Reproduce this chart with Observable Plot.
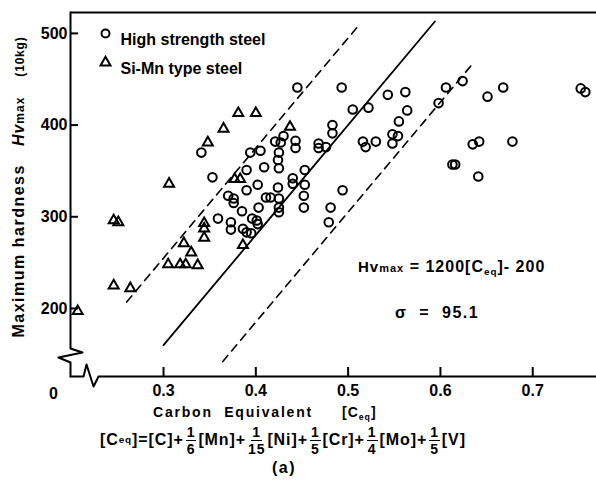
<!DOCTYPE html>
<html><head><meta charset="utf-8">
<script src="https://cdn.jsdelivr.net/npm/d3@7"></script>
<script src="https://cdn.jsdelivr.net/npm/@observablehq/plot@0.6"></script>
<style>
body{margin:0;background:#fff;}
#wrap{position:relative;width:596px;height:488px;font-family:"Liberation Sans",Arial,sans-serif;font-weight:bold;color:#000;overflow:hidden}
.abs{position:absolute;white-space:nowrap;line-height:1}
sub{font-size:62%;vertical-align:-0.3em;line-height:0}
.frac{display:inline-flex;flex-direction:column;align-items:center;vertical-align:middle;font-size:14px;line-height:1;margin:0 2px}
.frac .n{border-bottom:1.5px solid #000;padding:0 1px 1px}
.frac .d{padding-top:1px}
</style></head><body><div id="wrap"></div>
<script>
// ---- data ----
const hsC  = [0.341,0.353,0.359,0.370,0.376,0.376,0.373,0.373,0.385,0.386,0.390,0.395,0.390,0.390,0.394,0.405,0.402,0.409,0.403,0.396,0.401,0.402,0.411,0.416,0.424,0.425,0.425,0.425,0.425,0.424,0.425,0.421,0.427,0.430,0.443,0.443,0.445,0.440,0.440,0.453,0.453,0.452,0.452,0.468,0.468,0.476,0.483,0.483,0.493,0.494,0.481,0.479,0.505,0.522,0.543,0.562,0.564,0.555,0.548,0.554,0.548,0.516,0.519,0.530,0.606,0.624,0.598,0.651,0.668,0.752,0.757,0.635,0.642,0.678,0.613,0.616,0.641];
const hsHv = [370,343,298,323,320,315,294,286,306,287,283,282,329,351,370,372,335,354,310,298,296,292,321,321,332,320,310,305,370,362,353,382,381,388,383,375,441,342,336,351,335,323,310,380,375,376,400,391,441,329,310,294,417,419,433,436,416,404,390,388,380,382,376,382,441,448,424,431,441,440,436,379,382,382,357,357,344];
const smC  = [0.207,0.246,0.264,0.246,0.251,0.306,0.305,0.318,0.324,0.337,0.322,0.330,0.344,0.344,0.344,0.348,0.365,0.381,0.400,0.377,0.383,0.386,0.437];
const smHv = [197,225,222,296,294,336,248,248,248,247,271,261,293,287,277,381,396,413,413,341,341,269,398];
const fitC  = [0.300,0.594], fitHv  = [160,513];
const upC   = [0.260,0.510], upHv   = [207,507];
const loC   = [0.364,0.635], loHv   = [142,467];
const xTicks = [0.3,0.4,0.5,0.6,0.7];
const yTicks = [200,300,400,500];
const seriesNames = ["High strength steel","Si-Mn type steel"];

// ---- layout ----
const W=596, H=406, mt=12, mb=30, ml=70, mr=0;
const X0=0.1992, X1=0.7691, Y0=125.8, Y1=522.8;
const pxX=(X1-X0)/(W-ml-mr), pxY=(Y1-Y0)/(H-mt-mb);
const yBreak=148.7, xBreak=0.2209;
const leftAxis=[[X0,Y1],[X0,yBreak+7*pxY],[X0+12*pxX,yBreak+3*pxY],[X0-12*pxX,yBreak-2*pxY],[X0,yBreak-7*pxY],[X0,Y0]];
const bottomAxis=[[X0,Y0],[xBreak-7*pxX,Y0],[xBreak-4*pxX,Y0+12*pxY],[xBreak+3*pxX,Y0-10*pxY],[xBreak+8*pxX,Y0],[X1,Y0]];

const hs = hsC.map((c,i)=>({c,hv:hsHv[i]}));
const sm = smC.map((c,i)=>({c,hv:smHv[i]}));
const seg=(C,V)=>C.map((c,i)=>({c,hv:V[i]}));
const fam="Liberation Sans, Arial, sans-serif";

const chart = Plot.plot({
  width:W, height:H, marginTop:mt, marginBottom:mb, marginLeft:ml, marginRight:mr,
  style:{background:"#fff",color:"#000",fontFamily:fam,fontWeight:"bold",fontSize:"15px",overflow:"visible"},
  x:{domain:[X0,X1]}, y:{domain:[Y0,Y1]},
  marks:[
    Plot.ruleY([Y1],{stroke:"#000",strokeWidth:2}),
    Plot.line(leftAxis,{x:d=>d[0],y:d=>d[1],stroke:"#000",strokeWidth:2,curve:"linear"}),
    Plot.line(bottomAxis,{x:d=>d[0],y:d=>d[1],stroke:"#000",strokeWidth:2,curve:"linear"}),
    Plot.ruleX(xTicks,{y1:Y0,y2:Y0+9*pxY,stroke:"#000",strokeWidth:2}),
    Plot.ruleY(yTicks,{x1:X0,x2:X0+8*pxX,stroke:"#000",strokeWidth:2}),
    Plot.axisX(xTicks,{label:null,tickSize:0,tickPadding:8,tickFormat:d=>d.toFixed(1),fontSize:16,fontWeight:"bold",letterSpacing:"0.8px"}),
    Plot.axisY(yTicks,{label:null,tickSize:0,tickPadding:3,tickFormat:d=>String(d),fontSize:16,fontWeight:"bold",letterSpacing:"0.8px"}),
    Plot.text(["0"],{x:X0,y:Y0,dx:-17,dy:17,fontSize:16,fontWeight:"bold"}),
    Plot.line(seg(fitC,fitHv),{x:"c",y:"hv",stroke:"#000",strokeWidth:1.8}),
    Plot.line(seg(upC,upHv),{x:"c",y:"hv",stroke:"#000",strokeWidth:1.6,strokeDasharray:"8,6"}),
    Plot.line(seg(loC,loHv),{x:"c",y:"hv",stroke:"#000",strokeWidth:1.6,strokeDasharray:"8,6"}),
    Plot.dot(hs,{x:"c",y:"hv",r:4.3,stroke:"#000",strokeWidth:2,fill:"none",symbol:"circle"}),
    Plot.dot(sm,{x:"c",y:"hv",r:3.7,stroke:"#000",strokeWidth:2,fill:"none",symbol:"triangle"}),
    Plot.dot([0],{frameAnchor:"top-left",dx:35,dy:21,r:4,stroke:"#000",strokeWidth:2,fill:"none",symbol:"circle"}),
    Plot.dot([0],{frameAnchor:"top-left",dx:35,dy:50,r:3.7,stroke:"#000",strokeWidth:2,fill:"none",symbol:"triangle"}),
    Plot.text([seriesNames[0]],{frameAnchor:"top-left",dx:50,dy:21,textAnchor:"start",fontSize:16,fontWeight:"bold",letterSpacing:"2.3px"}),
    Plot.text([seriesNames[1]],{frameAnchor:"top-left",dx:50,dy:50,textAnchor:"start",fontSize:16,fontWeight:"bold",letterSpacing:"2.5px"})
  ]
});
const wrap=document.getElementById("wrap");
chart.style.position="absolute"; chart.style.left="0"; chart.style.top="0";
wrap.appendChild(chart);

function add(html,css){const d=document.createElement("div");d.className="abs";d.innerHTML=html;Object.assign(d.style,css);wrap.appendChild(d);return d;}
// annotation
add('<span style="font-size:15px">Hv</span><span style="font-size:11px">max</span> = 1200[C<sub>eq</sub>]- 200',{left:"358px",top:"259px",fontSize:"16px",letterSpacing:"1px"});
add('σ&nbsp;&nbsp;=&nbsp;&nbsp;95.1',{left:"395px",top:"305px",fontSize:"16px",letterSpacing:"1.5px"});
// y label (rotated)
add('<span style="font-size:16px;letter-spacing:1.5px">Maximum hardness</span><span style="display:inline-block;width:18px"></span><i style="font-size:16px;letter-spacing:1px">Hv</i><span style="font-size:12px;letter-spacing:1px">max</span><span style="display:inline-block;width:20px"></span><span style="font-size:12px;letter-spacing:0.8px">(10kg)</span>',
  {left:"-134px",top:"174px",width:"305px",height:"22px",transform:"rotate(-90deg)",transformOrigin:"50% 50%",lineHeight:"22px"});
// x label
add('Carbon&nbsp;&nbsp;Equivalent',{left:"153px",top:"405px",fontSize:"14px",letterSpacing:"1.8px"});
add('[C<sub>eq</sub>]',{left:"342px",top:"405px",fontSize:"14px",letterSpacing:"1px"});
// formula
const fr=(n,d)=>`<span class="frac"><span class="n">${n}</span><span class="d">${d}</span></span>`;
add(`[C<sub>eq</sub>]=[C]+${fr(1,6)}[Mn]+${fr(1,15)}[Ni]+${fr(1,5)}[Cr]+${fr(1,4)}[Mo]+${fr(1,5)}[V]`,
  {left:"100px",top:"425px",fontSize:"16px",letterSpacing:"0.9px",display:"flex",alignItems:"center",height:"30px"});
add('(a)',{left:"272px",top:"460px",fontSize:"16px",letterSpacing:"1.5px"});
</script></body></html>
